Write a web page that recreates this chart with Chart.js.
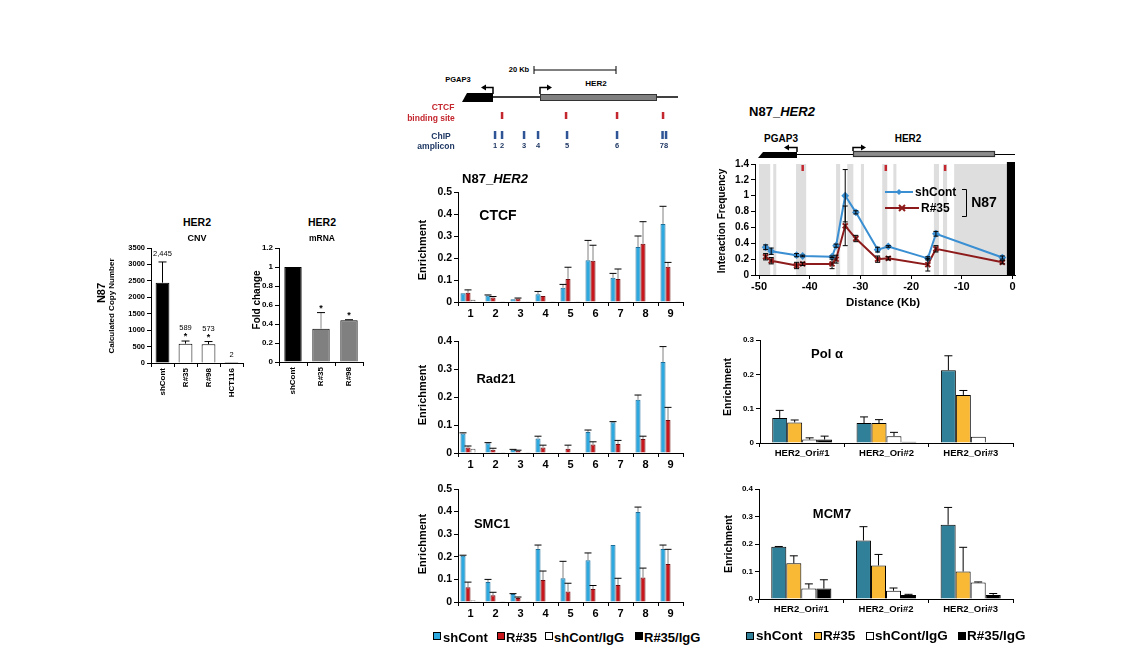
<!DOCTYPE html>
<html>
<head>
<meta charset="utf-8">
<script src="https://cdn.jsdelivr.net/npm/chart.js@4.4.1/dist/chart.umd.min.js"></script>
<style>
body { margin: 0; background: #fff; width: 1138px; height: 659px; position: relative; overflow: hidden; font-family: Arial, "Liberation Sans", sans-serif; }
.t { position: absolute; white-space: nowrap; font-weight: bold; line-height: 1; transform: translate(-50%, -50%); }
.l { transform: translate(0, -50%); }
.v { transform: translate(-50%, -50%) rotate(-90deg); }
.sq { position: absolute; box-sizing: border-box; border: 1px solid #000; }
canvas { position: absolute; }
</style>
</head>
<body>
<canvas id="overlay" width="1138" height="659" style="left:0;top:0;z-index:5;pointer-events:none"></canvas>
<script>
// ---- data ----
const cnvLines = ["shCont", "R#35", "R#98", "HCT116"];
const cnvCopies = [2445, 589, 573, 2];
const cnvErr = [630, 80, 80, 0];
const cnvText = ["2,445", "589", "573", "2"];
const cnvStars = [false, true, true, false];

const mrnaLines = ["shCont", "R#35", "R#98"];
const mrnaFold = [1.0, 0.35, 0.44];
const mrnaErr = [0, 0.17, 0.005];
const mrnaStars = [false, true, true];

const amplicons = ["1", "2", "3", "4", "5", "6", "7", "8", "9"];
const ctcfShCont = [0.040, 0.030, 0.012, 0.035, 0.065, 0.190, 0.110, 0.250, 0.355];
const ctcfShContErr = [0.000, 0.002, 0.000, 0.013, 0.015, 0.090, 0.020, 0.050, 0.080];
const ctcfR35 = [0.042, 0.020, 0.016, 0.027, 0.105, 0.188, 0.105, 0.265, 0.160];
const ctcfR35Err = [0.013, 0.005, 0.002, 0.000, 0.053, 0.070, 0.045, 0.100, 0.020];
const ctcfShContIgG = [0.010, 0.001, 0.003, 0.001, 0.001, 0.002, 0.001, 0.002, 0.001];
const ctcfR35IgG = [0.002, 0.001, 0.003, 0.001, 0.001, 0.002, 0.001, 0.002, 0.001];

const radShCont = [0.070, 0.035, 0.012, 0.052, 0.000, 0.075, 0.110, 0.190, 0.325];
const radShContErr = [0.002, 0.002, 0.001, 0.008, 0.000, 0.007, 0.002, 0.017, 0.055];
const radR35 = [0.020, 0.012, 0.008, 0.020, 0.015, 0.030, 0.032, 0.050, 0.118];
const radR35Err = [0.005, 0.005, 0.002, 0.008, 0.013, 0.010, 0.013, 0.010, 0.045];
const radShContIgG = [0.015, 0.001, 0.003, 0.000, 0.000, 0.002, 0.000, 0.003, 0.000];
const radR35IgG = [0.002, 0.001, 0.003, 0.000, 0.000, 0.002, 0.000, 0.002, 0.000];

const smcShCont = [0.205, 0.088, 0.035, 0.235, 0.105, 0.185, 0.252, 0.398, 0.235];
const smcShContErr = [0.002, 0.012, 0.002, 0.017, 0.075, 0.032, 0.000, 0.022, 0.017];
const smcR35 = [0.065, 0.030, 0.018, 0.097, 0.047, 0.057, 0.075, 0.108, 0.168];
const smcR35Err = [0.023, 0.013, 0.004, 0.040, 0.036, 0.016, 0.030, 0.042, 0.065];
const smcShContIgG = [0.008, 0.001, 0.003, 0.000, 0.000, 0.002, 0.000, 0.002, 0.000];
const smcR35IgG = [0.001, 0.001, 0.003, 0.000, 0.000, 0.002, 0.000, 0.002, 0.000];

const distanceTicks = [-50, -40, -30, -20, -10, 0];
const primerDistances = [-48.7, -47.6, -42.6, -41.4, -35.6, -34.8, -33.0, -30.9, -26.6, -24.5, -16.7, -15.1, -2.0];
const shContFreq = [0.35, 0.30, 0.25, 0.24, 0.23, 0.37, 1.00, 0.79, 0.32, 0.36, 0.21, 0.52, 0.22];
const shContFreqErr = [0.03, 0.04, 0.02, 0.01, 0.01, 0.02, 0.33, 0.02, 0.03, 0.01, 0.02, 0.03, 0.02];
const r35Freq = [0.23, 0.18, 0.12, 0.14, 0.14, 0.20, 0.62, 0.46, 0.20, 0.21, 0.13, 0.33, 0.16];
const r35FreqErr = [0.04, 0.04, 0.04, 0.02, 0.06, 0.05, 0.25, 0.04, 0.04, 0.02, 0.08, 0.04, 0.02];
const primerBands = [[-50, -47.8], [-47.2, -46.6], [-42.7, -40.7], [-34.8, -34], [-32.6, -31.4], [-29.9, -29.3],
  [-25.7, -24.7], [-23.5, -22.9], [-15.5, -14.5], [-13.7, -12.9], [-11.5, -1.1]];
const anchorBand = [-1.1, 0.5];
const ctcfSites = [-41.4, -25.0, -13.3];

const origins = ["HER2_Ori#1", "HER2_Ori#2", "HER2_Ori#3"];
const polShCont = [0.073, 0.058, 0.212];
const polShContErr = [0.022, 0.018, 0.042];
const polR35 = [0.060, 0.058, 0.140];
const polR35Err = [0.007, 0.010, 0.013];
const polShContIgG = [0.010, 0.020, 0.018];
const polShContIgGErr = [0.005, 0.011, 0];
const polR35IgG = [0.010, 0.004, 0.001];
const polR35IgGErr = [0.010, 0, 0];

const mcmShCont = [0.190, 0.213, 0.270];
const mcmShContErr = [0.001, 0.050, 0.063];
const mcmR35 = [0.130, 0.122, 0.100];
const mcmR35Err = [0.027, 0.040, 0.088];
const mcmShContIgG = [0.038, 0.030, 0.060];
const mcmShContIgGErr = [0.017, 0.010, 0.002];
const mcmR35IgG = [0.038, 0.015, 0.015];
const mcmR35IgGErr = [0.032, 0.002, 0.005];

// ---- defaults ----
Chart.defaults.font.family = "Arial, 'Liberation Sans', sans-serif";
Chart.defaults.font.weight = "bold";
Chart.defaults.color = "#000";
Chart.defaults.plugins.legend.display = false;
Chart.defaults.plugins.tooltip.enabled = false;

// error bars, drawn after the bars / points
const errorBars = {
  id: "errorBars",
  afterDatasetsDraw(chart) {
    const ctx = chart.ctx;
    const ys = chart.scales.y;
    chart.data.datasets.forEach((ds, i) => {
      if (!ds.errors) return;
      const meta = chart.getDatasetMeta(i);
      meta.data.forEach((el, j) => {
        const e = ds.errors[j];
        if (!e) return;
        const raw = ds.data[j];
        const v = typeof raw === "object" ? raw.y : raw;
        const x = el.x;
        const yTop = ys.getPixelForValue(v + e);
        const yBot = ds.errBoth ? ys.getPixelForValue(v - e) : ys.getPixelForValue(v);
        const c = ds.errCap || 3;
        ctx.save();
        ctx.lineWidth = 1;
        ctx.strokeStyle = ds.errStem || "#000";
        ctx.beginPath(); ctx.moveTo(x, yBot); ctx.lineTo(x, yTop); ctx.stroke();
        ctx.strokeStyle = "#000";
        ctx.beginPath();
        ctx.moveTo(x - c, yTop); ctx.lineTo(x + c, yTop);
        if (ds.errBoth) { ctx.moveTo(x - c, yBot); ctx.lineTo(x + c, yBot); }
        ctx.stroke();
        ctx.restore();
      });
    });
  }
};

// value labels and asterisks above the bars
const notes = {
  id: "notes",
  afterDatasetsDraw(chart, args, opts) {
    const ctx = chart.ctx;
    const ds = chart.data.datasets[0];
    const meta = chart.getDatasetMeta(0);
    const ys = chart.scales.y;
    ctx.save();
    ctx.fillStyle = "#000";
    ctx.textAlign = "center";
    ctx.textBaseline = "alphabetic";
    meta.data.forEach((el, i) => {
      const top = ys.getPixelForValue(ds.data[i] + (ds.errors ? ds.errors[i] : 0));
      const star = opts.stars && opts.stars[i];
      if (star) {
        ctx.font = "bold 9px Arial, 'Liberation Sans', sans-serif";
        ctx.fillText("*", el.x, top - 2);
      }
      if (opts.labels) {
        ctx.font = "7.5px Arial, 'Liberation Sans', sans-serif";
        ctx.fillText(opts.labels[i], el.x, star ? top - 11 : top - 6);
      }
    });
    ctx.restore();
  }
};

// shaded primer regions, anchor and CTCF marks of the 3C plot
const bands = {
  id: "bands",
  beforeDatasetsDraw(chart) {
    const ctx = chart.ctx;
    const a = chart.chartArea;
    const x = chart.scales.x;
    ctx.save();
    ctx.fillStyle = "#dedede";
    primerBands.forEach(b => {
      const p0 = x.getPixelForValue(b[0]);
      const p1 = x.getPixelForValue(b[1]);
      ctx.fillRect(p0, a.top, p1 - p0, a.bottom - a.top);
    });
    ctx.fillStyle = "#000";
    const q0 = x.getPixelForValue(anchorBand[0]);
    const q1 = x.getPixelForValue(anchorBand[1]);
    ctx.fillRect(q0, a.top - 2, q1 - q0, a.bottom - a.top + 2);
    ctx.fillStyle = "#c4262e";
    ctcfSites.forEach(s => {
      const p = x.getPixelForValue(s);
      ctx.fillRect(p - 1.2, a.top + 1, 2.5, 6);
    });
    ctx.restore();
  }
};

function makeChart(box, area, config) {
  const [x0, y0, x1, y1] = box;
  const [l, t, r, b] = area;
  const cv = document.createElement("canvas");
  cv.width = x1 - x0;
  cv.height = y1 - y0;
  cv.style.cssText = `left:${x0}px;top:${y0}px;width:${x1 - x0}px;height:${y1 - y0}px`;
  document.body.appendChild(cv);
  const o = config.options;
  o.responsive = false;
  o.animation = false;
  o.devicePixelRatio = 1;
  o.layout = { padding: { left: 0, top: t - y0, right: x1 - r, bottom: 0 } };
  o.scales.x.afterFit = s => { s.height = y1 - b; };
  o.scales.y.afterFit = s => { s.width = l - x0; };
  return new Chart(cv, config);
}

function catAxis(size, rot) {
  return {
    type: "category", offset: true,
    grid: { drawOnChartArea: false, offset: true, color: "#000", tickLength: 4 },
    border: { color: "#000", width: 1 },
    ticks: { font: { size: size, weight: "bold" }, padding: 1, autoSkip: false, minRotation: rot || 0, maxRotation: rot || 0 }
  };
}
function valAxis(max, step, size) {
  return {
    min: 0, max: max,
    grid: { drawOnChartArea: false, color: "#000", tickLength: 4 },
    border: { color: "#000", width: 1 },
    ticks: { stepSize: step, font: { size: size, weight: "bold" }, padding: 2, callback: v => String(Math.round(v * 100) / 100) }
  };
}

function addText(str, x, y, size, cls, color, html) {
  const d = document.createElement("div");
  d.className = "t " + (cls || "");
  d.style.left = x + "px";
  d.style.top = y + "px";
  d.style.fontSize = size + "px";
  if (color) d.style.color = color;
  if (html) d.innerHTML = str; else d.textContent = str;
  document.body.appendChild(d);
}
function addSquare(x, y, s, color) {
  const d = document.createElement("div");
  d.className = "sq";
  d.style.cssText = `left:${x}px;top:${y}px;width:${s}px;height:${s}px;background:${color}`;
  document.body.appendChild(d);
}

// ---- CNV ----
makeChart([115, 240, 250, 410], [151, 248, 243, 363], {
  type: "bar",
  data: {
    labels: cnvLines,
    datasets: [{
      data: cnvCopies, errors: cnvErr, errCap: 4,
      backgroundColor: ["#000", "#fff", "#fff", "#000"], borderColor: "#000", borderWidth: 1,
      barPercentage: 0.6, categoryPercentage: 1
    }]
  },
  options: {
    scales: { x: catAxis(8, 90), y: Object.assign(valAxis(3500, 500, 7.5), {}) },
    plugins: { notes: { labels: cnvText, stars: cnvStars } }
  },
  plugins: [errorBars, notes]
});

// ---- mRNA ----
makeChart([255, 240, 370, 400], [279, 248, 363, 362], {
  type: "bar",
  data: {
    labels: mrnaLines,
    datasets: [{
      data: mrnaFold, errors: mrnaErr, errCap: 4, errStem: "#888",
      backgroundColor: ["#000", "#808080", "#808080"], borderColor: "#000", borderWidth: 1,
      barPercentage: 0.62, categoryPercentage: 1
    }]
  },
  options: {
    scales: { x: catAxis(8, 90), y: valAxis(1.2, 0.2, 8) },
    plugins: { notes: { stars: mrnaStars } }
  },
  plugins: [errorBars, notes]
});

// ---- ChIP panels ----
function chipSets(a, aErr, b, bErr, c, d) {
  const common = { borderWidth: 1, barPercentage: 1, categoryPercentage: 0.8, errStem: "#808080", errCap: 3.5 };
  return [
    Object.assign({ label: "shCont", data: a, errors: aErr, backgroundColor: "#2ea9e0", borderColor: "#1d6e99" }, common),
    Object.assign({ label: "R#35", data: b, errors: bErr, backgroundColor: "#c8161d", borderColor: "#6e0c0f" }, common),
    Object.assign({ label: "shCont/IgG", data: c, backgroundColor: "#fff", borderColor: "#555" }, common),
    Object.assign({ label: "R#35/IgG", data: d, backgroundColor: "#000", borderColor: "#000" }, common)
  ];
}
makeChart([425, 180, 690, 320], [458, 192, 683, 302], {
  type: "bar",
  data: { labels: amplicons, datasets: chipSets(ctcfShCont, ctcfShContErr, ctcfR35, ctcfR35Err, ctcfShContIgG, ctcfR35IgG) },
  options: { scales: { x: catAxis(11), y: valAxis(0.5, 0.1, 10.5) } },
  plugins: [errorBars]
});
makeChart([425, 330, 690, 470], [458, 341, 683, 453], {
  type: "bar",
  data: { labels: amplicons, datasets: chipSets(radShCont, radShContErr, radR35, radR35Err, radShContIgG, radR35IgG) },
  options: { scales: { x: catAxis(11), y: valAxis(0.4, 0.1, 10.5) } },
  plugins: [errorBars]
});
makeChart([425, 478, 690, 622], [458, 489, 683, 602], {
  type: "bar",
  data: { labels: amplicons, datasets: chipSets(smcShCont, smcShContErr, smcR35, smcR35Err, smcShContIgG, smcR35IgG) },
  options: { scales: { x: catAxis(11), y: valAxis(0.5, 0.1, 10.5) } },
  plugins: [errorBars]
});

// ---- 3C interaction frequency ----
makeChart([725, 155, 1025, 300], [755, 164, 1015, 275], {
  type: "scatter",
  data: {
    datasets: [
      { label: "shCont", data: primerDistances.map((d, i) => ({ x: d, y: shContFreq[i] })), errors: shContFreqErr, errBoth: true, errCap: 2.5,
        showLine: true, borderColor: "#3a8fd3", backgroundColor: "#3a8fd3", borderWidth: 2, pointStyle: "rectRot", pointRadius: 2.5 },
      { label: "R#35", data: primerDistances.map((d, i) => ({ x: d, y: r35Freq[i] })), errors: r35FreqErr, errBoth: true, errCap: 2.5,
        showLine: true, borderColor: "#8e1b1b", backgroundColor: "#8e1b1b", borderWidth: 2, pointStyle: "crossRot", pointRadius: 3.5 }
    ]
  },
  options: {
    scales: {
      x: {
        type: "linear", min: -50.8, max: 0.5,
        afterBuildTicks: s => { s.ticks = distanceTicks.map(v => ({ value: v })); },
        grid: { drawOnChartArea: false, color: "#000", tickLength: 4 },
        border: { color: "#000", width: 1 },
        ticks: { font: { size: 11, weight: "bold" }, padding: 1, callback: v => String(v) }
      },
      y: valAxis(1.4, 0.2, 10)
    }
  },
  plugins: [bands, errorBars]
});

// ---- Pol alpha / MCM7 ----
function oriSets(a, aErr, b, bErr, c, cErr, d, dErr) {
  const common = { borderWidth: 1, borderColor: "#000", barPercentage: 1, categoryPercentage: 0.71, errCap: 4 };
  return [
    Object.assign({ label: "shCont", data: a, errors: aErr, backgroundColor: "#2f8098" }, common),
    Object.assign({ label: "R#35", data: b, errors: bErr, backgroundColor: "#fab935" }, common),
    Object.assign({ label: "shCont/IgG", data: c, errors: cErr, backgroundColor: "#fff" }, common),
    Object.assign({ label: "R#35/IgG", data: d, errors: dErr, backgroundColor: "#000" }, common)
  ];
}
makeChart([725, 330, 1025, 470], [760, 340, 1013, 443], {
  type: "bar",
  data: { labels: origins, datasets: oriSets(polShCont, polShContErr, polR35, polR35Err, polShContIgG, polShContIgGErr, polR35IgG, polR35IgGErr) },
  options: { scales: { x: catAxis(9.5), y: valAxis(0.3, 0.1, 8) } },
  plugins: [errorBars]
});
makeChart([725, 480, 1025, 625], [759, 489, 1013, 599], {
  type: "bar",
  data: { labels: origins, datasets: oriSets(mcmShCont, mcmShContErr, mcmR35, mcmR35Err, mcmShContIgG, mcmShContIgGErr, mcmR35IgG, mcmR35IgGErr) },
  options: { scales: { x: catAxis(9.5), y: valAxis(0.4, 0.1, 8) } },
  plugins: [errorBars]
});

// ---- text ----
addText("HER2", 197, 222, 10.5);
addText("CNV", 197, 238, 9);
addText("N87", 101, 293, 11, "v");
addText("Calculated Copy Number", 112, 306, 8, "v");
addText("HER2", 322, 222, 10.5);
addText("mRNA", 322, 238, 8.5);
addText("Fold change", 257, 300, 10, "v");

addText("N87_<i>HER2</i>", 495, 178, 13, "", null, true);
addText("CTCF", 498, 215, 14);
addText("Rad21", 496, 378, 13);
addText("SMC1", 492, 523, 13);
addText("Enrichment", 422, 250, 11, "v");
addText("Enrichment", 422, 395, 11, "v");
addText("Enrichment", 422, 544, 11, "v");

addSquare(433, 632, 8, "#2ea9e0"); addText("shCont", 443, 637, 13, "l");
addSquare(497, 632, 8, "#c8161d"); addText("R#35", 506, 637, 13, "l");
addSquare(545, 632, 8, "#fff"); addText("shCont/IgG", 554, 637, 13, "l");
addSquare(635, 632, 8, "#000"); addText("R#35/IgG", 644, 637, 13, "l");

addText("N87_<i>HER2</i>", 782, 111, 13, "", null, true);
addText("PGAP3", 781, 139, 10);
addText("HER2", 908, 139, 10);
addText("Interaction Frequency", 722, 221, 10, "v");
addText("Distance (Kb)", 883, 303, 11.5);
addText("shCont", 915, 192, 12, "l");
addText("R#35", 921, 208, 12, "l");
addText("N87", 984, 202, 14);

addText("Pol α", 827, 353, 13);
addText("Enrichment", 727, 387, 10.5, "v");
addText("MCM7", 832, 513, 13);
addText("Enrichment", 728, 544, 10.5, "v");
addSquare(746, 632, 8, "#2f8098"); addText("shCont", 756, 636, 13.5, "l");
addSquare(814, 632, 8, "#fab935"); addText("R#35", 823, 636, 13.5, "l");
addSquare(866, 632, 8, "#fff"); addText("shCont/IgG", 875, 636, 13.5, "l");
addSquare(958, 632, 8, "#000"); addText("R#35/IgG", 967, 636, 13.5, "l");

// gene map at the top
addText("20 Kb", 519, 70, 7.5);
addText("PGAP3", 458, 80, 7.5);
addText("HER2", 596, 84, 8);
addText("CTCF", 443, 107, 8.5, "", "#c4262e");
addText("binding site", 431, 118, 8.5, "", "#c4262e");
addText("ChIP", 441, 136, 8.5, "", "#1f3864");
addText("amplicon", 436, 146, 8.5, "", "#1f3864");
[["1", 495], ["2", 502], ["3", 524], ["4", 538], ["5", 567], ["6", 617], ["78", 664]].forEach(p => addText(p[0], p[1], 146, 7.5, "", "#1f3864"));

// ---- schematic drawings ----
const g = document.getElementById("overlay").getContext("2d");
function seg(pts, w, col) {
  g.strokeStyle = col || "#000"; g.lineWidth = w || 1;
  g.beginPath(); g.moveTo(pts[0][0], pts[0][1]);
  for (let i = 1; i < pts.length; i++) g.lineTo(pts[i][0], pts[i][1]);
  g.stroke();
}
function poly(pts, col) {
  g.fillStyle = col; g.beginPath(); g.moveTo(pts[0][0], pts[0][1]);
  for (let i = 1; i < pts.length; i++) g.lineTo(pts[i][0], pts[i][1]);
  g.closePath(); g.fill();
}
// top map
seg([[534, 70], [616, 70]]); seg([[534, 66], [534, 74]]); seg([[616, 66], [616, 74]]);
seg([[493, 97], [678, 97]], 1.5);
poly([[467, 93], [493, 93], [493, 102], [462, 102]], "#000");
g.fillStyle = "#808080"; g.fillRect(540, 94, 117, 7); g.strokeStyle = "#333"; g.lineWidth = 1; g.strokeRect(540.5, 94.5, 116, 6);
seg([[493, 94], [493, 87.5], [485, 87.5]], 1.5); poly([[481, 87.5], [486, 84.5], [486, 90.5]], "#000");
seg([[540, 94], [540, 87.5], [548, 87.5]], 1.5); poly([[552, 87.5], [547, 84.5], [547, 90.5]], "#000");
g.fillStyle = "#c4262e"; [502, 566, 617, 663].forEach(x => g.fillRect(x - 1.2, 112, 2.5, 7));
g.fillStyle = "#2f5496"; [495, 502, 524, 538, 567, 617, 662.5, 666].forEach(x => g.fillRect(x - 1.2, 131, 2.5, 8));
// 3C map
seg([[797, 154.5], [1015, 154.5]], 1.2);
poly([[763, 152], [797, 152], [797, 158], [758, 158]], "#000");
g.fillStyle = "#8c8c8c"; g.fillRect(853, 151, 142, 6); g.strokeStyle = "#333"; g.strokeRect(853.5, 151.5, 141, 5);
seg([[797, 152], [797, 147.5], [788, 147.5]], 1.5); poly([[784, 147.5], [789, 144.5], [789, 150.5]], "#000");
seg([[853, 151], [853, 147.5], [862, 147.5]], 1.5); poly([[866, 147.5], [861, 144.5], [861, 150.5]], "#000");
// 3C legend
seg([[885, 192], [913, 192]], 2, "#3a8fd3"); poly([[899, 189], [902, 192], [899, 195], [896, 192]], "#3a8fd3");
seg([[885, 208], [919, 208]], 2, "#8e1b1b"); seg([[899, 205], [905, 211]], 2, "#8e1b1b"); seg([[905, 205], [899, 211]], 2, "#8e1b1b");
seg([[962, 189.5], [966.5, 189.5], [966.5, 216.5], [962, 216.5]], 1);
</script>
</body>
</html>
